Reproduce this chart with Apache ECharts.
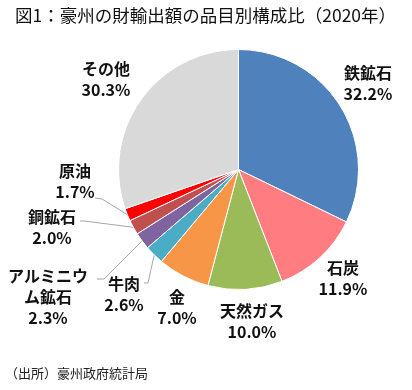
<!DOCTYPE html>
<html><head><meta charset="utf-8">
<script src="https://cdn.jsdelivr.net/npm/echarts@6/dist/echarts.min.js"></script>
<style>html,body{margin:0;padding:0;background:#fff}#c{width:412px;height:390px}</style>
</head><body><div id="c"></div>
<script>
const categories = ['鉄鉱石','石炭','天然ガス','金','牛肉','アルミニウム鉱石','銅鉱石','原油','その他'];
const shares = [32.2, 11.9, 10.0, 7.0, 2.6, 2.3, 2.0, 1.7, 30.3];
const colors = ['#4F81BD','#FF7C80','#9BBB59','#F79646','#4BACC6','#8064A2','#C0504D','#FF0000','#D9D9D9'];
// label block centres (layout only)
const labelPos = [[368,83],[343,278],[252,321],[177,307],[124,294],[48,297],[52,227],[75,181],[106,79]];
// leader-line bend / end points for small slices (layout only)
const linePts = [null,null,null,null,[[148,283],[144,283]],[[104,279],[97,279]],[[84,221],[80,221]],[[102,199],[95,198]],null];

const chart = echarts.init(document.getElementById('c'));
const F = '"Noto Sans CJK JP", "Noto Sans", sans-serif';
chart.setOption({
  animation: false,
  color: colors,
  title: [{
    text: '図1：豪州の財輸出額の品目別構成比（2020年）',
    left: 10, top: 2,
    textStyle: {fontFamily: F, fontSize: 17.5, fontWeight: 'normal', color: '#111'}
  }, {
    text: '（出所）豪州政府統計局',
    left: 0, top: 362,
    textStyle: {fontFamily: F, fontSize: 13, fontWeight: 'normal', color: '#222'}
  }],
  series: [{
    type: 'pie',
    left: 0, top: 0, width: 1000, height: 1000,
    center: [238.5, 169.5],
    radius: 120,
    startAngle: 90,
    clockwise: true,
    itemStyle: {borderColor: '#fff', borderWidth: 1},
    data: categories.map((c, i) => ({
      name: c, value: shares[i],
      labelLine: {show: !!linePts[i]}
    })),
    label: {
      show: true,
      position: 'outside',
      overflow: 'none',
      fontFamily: F, fontSize: 16, fontWeight: 'bold', color: '#111',
      lineHeight: 21, align: 'center',
      formatter: p => (p.name === 'アルミニウム鉱石' ? 'アルミニウ\nム鉱石' : p.name) + '\n' + p.value.toFixed(1) + '%'
    },
    labelLine: {lineStyle: {color: '#A6A6A6', width: 1}, length: 10, length2: 10},
    labelLayout: p => {
      const o = {
        x: labelPos[p.dataIndex][0],
        y: labelPos[p.dataIndex][1],
        align: 'center',
        verticalAlign: 'middle'
      };
      const lp = linePts[p.dataIndex];
      if (lp && p.labelLinePoints && p.labelLinePoints[0]) {
        o.labelLinePoints = [p.labelLinePoints[0], lp[0], lp[1]];
      }
      return o;
    }
  }]
});
</script></body></html>
